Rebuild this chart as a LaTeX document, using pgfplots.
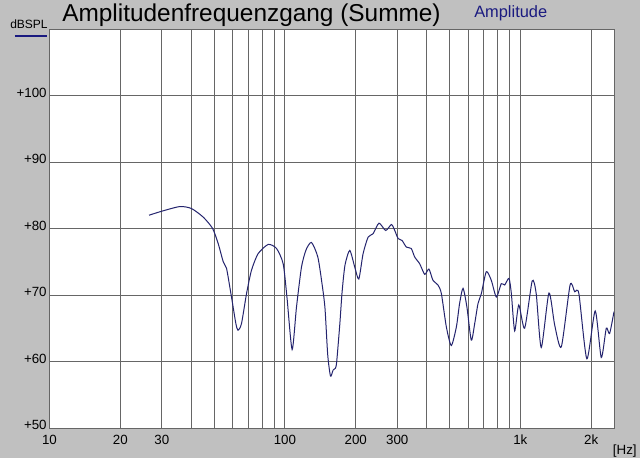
\documentclass[border=0pt]{standalone}
\usepackage{pgfplots}
\pgfplotsset{compat=1.18}
\usepackage{fontspec}
\setmainfont{Liberation Sans}
\definecolor{bg}{HTML}{C0C0C0}
\definecolor{gridc}{HTML}{666666}
\definecolor{curve}{HTML}{24246E}
\definecolor{lab}{HTML}{1A1A80}
\begin{document}
\begin{tikzpicture}
\fill[bg] (-37.125pt,-22.5pt) rectangle (442.9pt,321pt);
\begin{axis}[
  scale only axis,
  width=423.4pt, height=299.25pt,
  xmode=log, xmin=10, xmax=2500, ymin=50, ymax=110,
  axis background/.style={fill=white},
  xtick={10,20,30,100,200,300,1000,2000},
  xticklabels={10,20,30,100,200,300,1k,2k},
  minor xtick={40,50,60,70,80,90,400,500,600,700,800,900},
  ytick={50,60,70,80,90,100,110},
  yticklabels={+50,+60,+70,+80,+90,+100,},
  grid=both,
  major grid style={gridc, line width=0.65pt},
  minor grid style={gridc, line width=0.65pt},
  major tick length=0pt, minor tick length=0pt,
  axis line style={gridc, line width=0.65pt},
  tick label style={font=\fontsize{10}{12}\selectfont, black},
  /pgf/number format/assume math mode=true,
  xticklabel style={yshift=-1.5pt},
  yticklabel style={xshift=1.4pt, yshift=2.25pt},
  clip=true,
]
\addplot[curve, line width=0.75pt, smooth, tension=0.4] coordinates {
(26.5,82.0) (30,82.6) (35.8,83.3) (40.1,83.0) (45,81.7) (49.3,80.0) (52.1,77.7)
(54.7,75.0) (56.5,74.0) (59.3,69.7) (61.9,65.7) (63.2,64.7) (65.4,65.7) (68.7,70.2)
(72.1,73.7) (76.9,76.2) (84.9,77.6) (92.1,77.0) (98.3,74.7) (102,69.7) (107.3,61.8)
(112,68.2) (117.6,74.2) (123,76.8) (129.7,77.9) (138,75.7) (144,71.5) (148,68.0)
(152,61.0) (156.2,57.8) (160.2,58.7) (164,59.0) (166,60.0) (171,65.5) (175,70.5)
(180,74.5) (188.6,76.7) (198,74.2) (206,72.4) (214.8,76.2) (225.6,78.7)
(236.7,79.2) (251,80.8) (268,79.7) (283.5,80.6) (292.8,79.7) (302.5,78.5) (314.5,78.2)
(328,77.2) (344,77.0) (356,75.7) (373.7,74.7) (392.6,73.1) (409,73.9) (425.6,72.2)
(447,71.5) (462,70.2) (485,65.2) (509,62.4) (535,65.2) (552,68.7) (571,71.0)
(593,68.2) (619,63.2) (640,65.7) (661,68.7) (683,70.2) (717,73.5) (753,72.2)
(791,69.7) (830,71.7) (858,71.5) (895,72.5) (916,70.2) (946,64.6) (985,68.5)
(1043,65.0) (1123,72.1) (1168,70.2) (1227,62.1) (1323,70.3) (1399,65.5) (1493,62.2)
(1627,71.5) (1701,70.5) (1773,70.2) (1917,60.4) (2080,67.6) (2207,60.6) (2318,65.0)
(2394,64.2) (2500,67.5)
};
\end{axis}
\node[anchor=base west, inner sep=0pt, font=\fontsize{18.3}{20}\selectfont] at (9.4pt,304.5pt) {Amplitudenfrequenzgang (Summe)};
\node[anchor=base west, inner sep=0pt, font=\fontsize{12.3}{14}\selectfont, text=lab] at (318.4pt,307.9pt) {Amplitude};
\node[anchor=base west, inner sep=0pt, font=\fontsize{9}{11}\selectfont] at (-29.6pt,299.8pt) {dBSPL};
\draw[lab, line width=1.5pt] (-25.9pt,294pt) -- (-1.9pt,294pt);
\node[anchor=base east, inner sep=0pt, font=\fontsize{10}{12}\selectfont] at (440.6pt,-20.25pt) {[Hz]};
\end{tikzpicture}
\end{document}
